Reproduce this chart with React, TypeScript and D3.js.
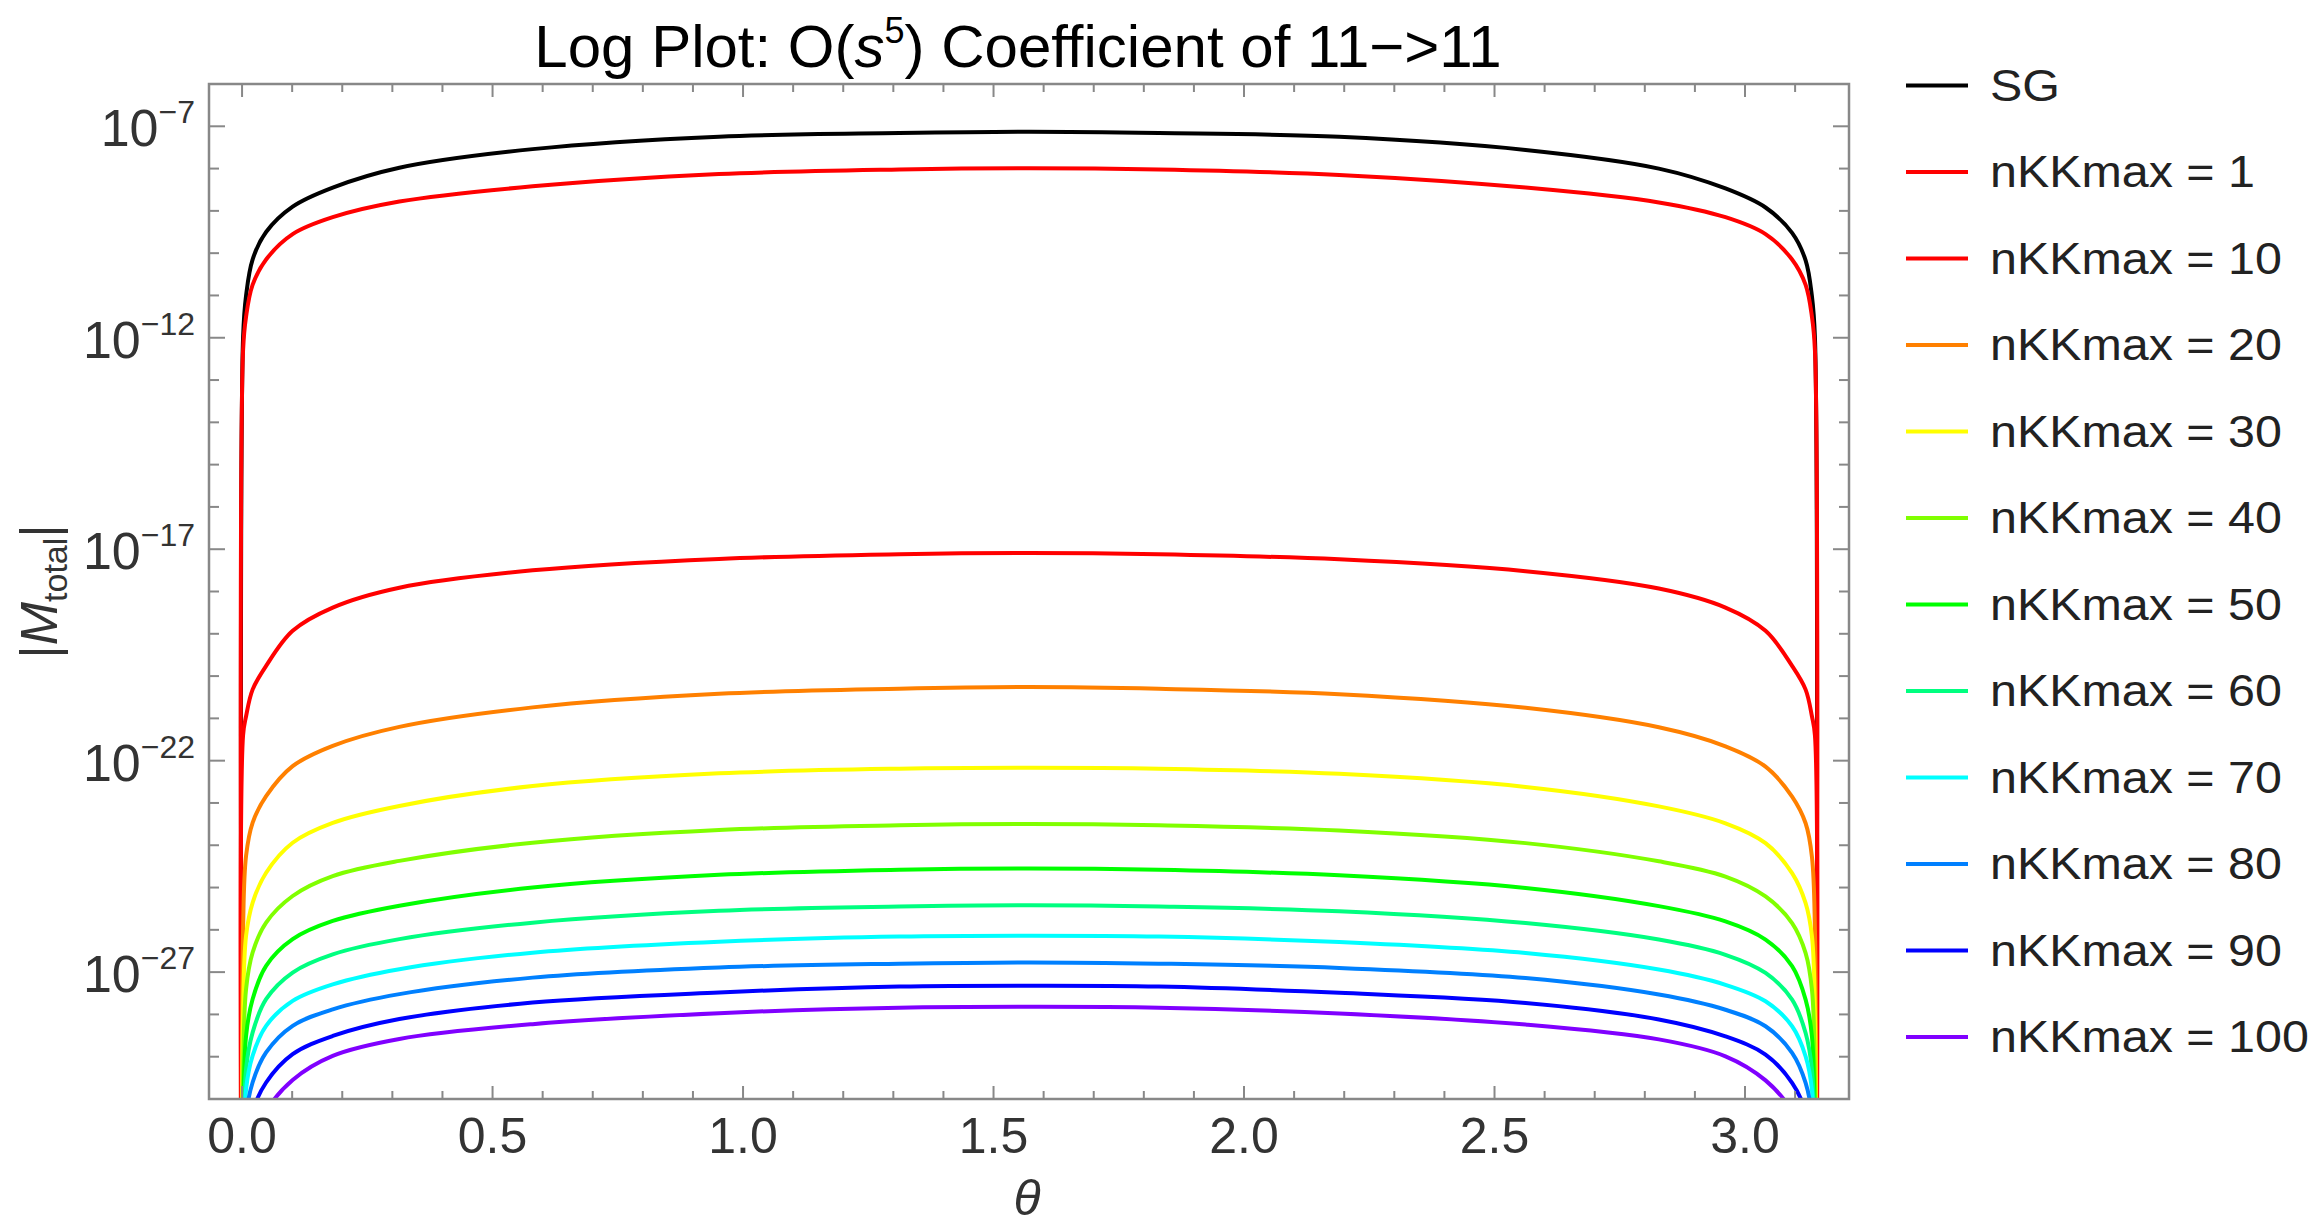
import React from "react";
import * as d3 from "d3";

// theta samples (radians)
const theta = [
  0, 0.002, 0.008, 0.021, 0.048, 0.101, 0.181, 0.314, 0.58, 0.952, 1.312, 1.571,
  1.83, 2.19, 2.562, 2.828, 2.961, 3.041, 3.094, 3.121, 3.1336, 3.1396, 3.1416,
];

// log10 |M_total| for each series (values at theta = 0 and pi lie far below the frame)
const sgExp = [-36, -12.0, -11.0, -10.15, -9.5, -8.9, -8.45, -7.98, -7.54, -7.245, -7.16, -7.13,
  -7.16, -7.25, -7.56, -8.0, -8.47, -8.92, -9.52, -10.17, -11.02, -12.0, -36];
const kk1Exp = [-36, -12.3, -11.5, -10.75, -10.15, -9.55, -9.15, -8.78, -8.42, -8.13, -8.02, -7.99,
  -8.02, -8.15, -8.45, -8.8, -9.15, -9.55, -10.15, -10.75, -11.5, -12.3, -36];
const kk10Exp = [-36, -21.4, -20.95, -20.32, -19.76, -18.93, -18.38, -17.91, -17.5, -17.23, -17.12, -17.09,
  -17.12, -17.24, -17.52, -17.93, -18.38, -18.93, -19.76, -20.32, -20.95, -21.4, -36];
const kk20Exp = [-36, -26, -24.25, -23.47, -22.84, -22.13, -21.65, -21.2, -20.74, -20.42, -20.3, -20.26,
  -20.3, -20.43, -20.75, -21.21, -21.66, -22.14, -22.85, -23.48, -24.27, -26, -36];
const kk30Exp = [-36, -28, -26.14, -25.36, -24.65, -23.94, -23.47, -23.07, -22.6, -22.3, -22.19, -22.17,
  -22.19, -22.31, -22.62, -23.08, -23.48, -23.95, -24.66, -25.37, -26.15, -28, -36];
const kk40Exp = [-36, -29.5, -27.4, -26.54, -25.83, -25.2, -24.73, -24.37, -23.94, -23.64, -23.53, -23.5,
  -23.53, -23.65, -23.95, -24.38, -24.74, -25.21, -25.84, -26.55, -27.41, -29.5, -36];
const kk50Exp = [-36, -31, -28.51, -27.64, -26.85, -26.22, -25.79, -25.43, -25.0, -24.7, -24.58, -24.55,
  -24.58, -24.71, -25.01, -25.44, -25.8, -26.23, -26.86, -27.65, -28.52, -31, -36];
const kk60Exp = [-36, -32, -29.29, -28.43, -27.64, -27.01, -26.58, -26.22, -25.83, -25.55, -25.45, -25.42,
  -25.45, -25.56, -25.84, -26.23, -26.59, -27.02, -27.65, -28.44, -29.3, -32, -36];
const kk70Exp = [-36, -33, -29.77, -28.98, -28.27, -27.68, -27.29, -26.93, -26.54, -26.28, -26.16, -26.14,
  -26.16, -26.29, -26.55, -26.94, -27.3, -27.69, -28.28, -28.99, -29.78, -33, -36];
const kk80Exp = [-36, -34, -30.4, -29.61, -28.9, -28.27, -27.88, -27.52, -27.13, -26.89, -26.8, -26.77,
  -26.8, -26.9, -27.14, -27.53, -27.89, -28.28, -28.91, -29.62, -30.4, -34, -36];
const kk90Exp = [-36, -35, -31.5, -30.3, -29.61, -28.94, -28.51, -28.11, -27.72, -27.48, -27.34, -27.32,
  -27.34, -27.49, -27.73, -28.12, -28.52, -28.95, -29.62, -30.3, -31.5, -35, -36];
const kk100Exp = [-36, -36, -32.5, -31.3, -30.3, -29.55, -28.98, -28.58, -28.23, -27.97, -27.84, -27.82,
  -27.84, -27.98, -28.24, -28.59, -28.99, -29.56, -30.3, -31.3, -32.5, -36, -36];

const seriesNames = ["SG", "nKKmax = 1", "nKKmax = 10", "nKKmax = 20", "nKKmax = 30", "nKKmax = 40",
  "nKKmax = 50", "nKKmax = 60", "nKKmax = 70", "nKKmax = 80", "nKKmax = 90", "nKKmax = 100"];
const seriesColors = ["#000000", "#ff0000", "#ff0000", "#ff8000", "#ffff00", "#80ff00",
  "#00ff00", "#00ff80", "#00ffff", "#0080ff", "#0000ff", "#8000ff"];
const seriesExp = [sgExp, kk1Exp, kk10Exp, kk20Exp, kk30Exp, kk40Exp,
  kk50Exp, kk60Exp, kk70Exp, kk80Exp, kk90Exp, kk100Exp];

const xMajorTicks = [0, 0.5, 1.0, 1.5, 2.0, 2.5, 3.0];
const xTickLabels = ["0.0", "0.5", "1.0", "1.5", "2.0", "2.5", "3.0"];
const xMinorTicks = [0.1, 0.2, 0.3, 0.4, 0.6, 0.7, 0.8, 0.9, 1.1, 1.2, 1.3, 1.4, 1.6, 1.7, 1.8, 1.9,
  2.1, 2.2, 2.3, 2.4, 2.6, 2.7, 2.8, 2.9, 3.1];
const yMajorExp = [-7, -12, -17, -22, -27];
const yMinorExp = [-8, -9, -10, -11, -13, -14, -15, -16, -18, -19, -20, -21, -23, -24, -25, -26, -28, -29];

const FONT = "'Liberation Sans', Arial, sans-serif";

const App = () => {
  const width = 2322;
  const height = 1227;
  const frame = { left: 209, right: 1849, top: 84, bottom: 1099 };

  const xScale = d3.scaleLinear()
    .domain([-0.066, Math.PI + 0.066])
    .range([frame.left, frame.right]);
  const yScale = d3.scaleLog()
    .domain([1e-30, 1e-6])
    .range([frame.bottom, frame.top]);

  // centripetal Catmull-Rom keeps the knees round without loops at the steep ends
  const line = d3.line<[number, number]>()
    .x(d => xScale(d[0]))
    .y(d => yScale(Math.pow(10, d[1])))
    .curve(d3.curveCatmullRom.alpha(0.5));

  const axisColor = "#888888";
  const legendTop = 85.5;
  const legendStep = 86.5;

  return (
    <svg width={width} height={height}
      style={{ position: "absolute", left: 0, top: 0, background: "#fff" }}>
      <defs>
        <clipPath id="plotClip">
          <rect x={frame.left} y={frame.top}
            width={frame.right - frame.left} height={frame.bottom - frame.top} />
        </clipPath>
      </defs>

      {/* title */}
      <text x={1018} y={67} textAnchor="middle" fontFamily={FONT} fontSize={60} fill="#000">
        <tspan>Log Plot: O(</tspan>
        <tspan fontStyle="italic">s</tspan>
        <tspan fontSize={36} dy={-24}>5</tspan>
        <tspan dy={24}>) Coefficient of 11−&gt;11</tspan>
      </text>

      {/* curves */}
      <g clipPath="url(#plotClip)">
        {seriesExp.map((vals, i) => (
          <path key={seriesNames[i]}
            d={line(theta.map((t, j) => [t, vals[j]] as [number, number])) || ""}
            fill="none" stroke={seriesColors[i]} strokeWidth={4}
            strokeLinejoin="round" strokeLinecap="round" />
        ))}
      </g>

      {/* frame */}
      <rect x={frame.left} y={frame.top} width={frame.right - frame.left}
        height={frame.bottom - frame.top} fill="none" stroke={axisColor} strokeWidth={2.5} />

      {/* x ticks, bottom and top */}
      {xMajorTicks.map(t => (
        <g key={"xM" + t}>
          <line x1={xScale(t)} x2={xScale(t)} y1={frame.bottom} y2={frame.bottom - 13}
            stroke={axisColor} strokeWidth={2} />
          <line x1={xScale(t)} x2={xScale(t)} y1={frame.top} y2={frame.top + 13}
            stroke={axisColor} strokeWidth={2} />
        </g>
      ))}
      {xMinorTicks.map(t => (
        <g key={"xm" + t}>
          <line x1={xScale(t)} x2={xScale(t)} y1={frame.bottom} y2={frame.bottom - 8}
            stroke={axisColor} strokeWidth={2} />
          <line x1={xScale(t)} x2={xScale(t)} y1={frame.top} y2={frame.top + 8}
            stroke={axisColor} strokeWidth={2} />
        </g>
      ))}
      {xMajorTicks.map((t, i) => (
        <text key={"xl" + t} x={xScale(t)} y={1153} textAnchor="middle"
          fontFamily={FONT} fontSize={50} fill="#333">{xTickLabels[i]}</text>
      ))}

      {/* y ticks, left and right */}
      {yMajorExp.map(e => (
        <g key={"yM" + e}>
          <line x1={frame.left} x2={frame.left + 16} y1={yScale(Math.pow(10, e))} y2={yScale(Math.pow(10, e))}
            stroke={axisColor} strokeWidth={2} />
          <line x1={frame.right} x2={frame.right - 16} y1={yScale(Math.pow(10, e))} y2={yScale(Math.pow(10, e))}
            stroke={axisColor} strokeWidth={2} />
        </g>
      ))}
      {yMinorExp.map(e => (
        <g key={"ym" + e}>
          <line x1={frame.left} x2={frame.left + 10} y1={yScale(Math.pow(10, e))} y2={yScale(Math.pow(10, e))}
            stroke={axisColor} strokeWidth={2} />
          <line x1={frame.right} x2={frame.right - 10} y1={yScale(Math.pow(10, e))} y2={yScale(Math.pow(10, e))}
            stroke={axisColor} strokeWidth={2} />
        </g>
      ))}
      {yMajorExp.map(e => (
        <text key={"yl" + e} x={195} y={yScale(Math.pow(10, e)) + 20} textAnchor="end"
          fontFamily={FONT} fontSize={52} fill="#333">
          <tspan>10</tspan>
          <tspan fontSize={32} dy={-23}>{"−" + Math.abs(e)}</tspan>
        </text>
      ))}

      {/* axis labels */}
      <text x={1027} y={1215} textAnchor="middle" fontFamily={FONT} fontSize={50}
        fontStyle="italic" fill="#333">θ</text>
      <text transform={`translate(57, ${(frame.top + frame.bottom) / 2}) rotate(-90)`}
        textAnchor="middle" fontFamily={FONT} fontSize={52} fill="#333">
        <tspan>|</tspan>
        <tspan fontStyle="italic">M</tspan>
        <tspan fontSize={34} dy={10}>total</tspan>
        <tspan dy={-10}>|</tspan>
      </text>

      {/* legend */}
      {seriesNames.map((name, i) => {
        const ly = legendTop + i * legendStep;
        return (
          <g key={"lg" + name}>
            <line x1={1906} x2={1968} y1={ly} y2={ly} stroke={seriesColors[i]} strokeWidth={4} />
            <text transform={`translate(1990, ${ly + 15}) scale(1.1, 1)`}
              fontFamily={FONT} fontSize={44} fill="#222">{name}</text>
          </g>
        );
      })}
    </svg>
  );
};

export default App;
